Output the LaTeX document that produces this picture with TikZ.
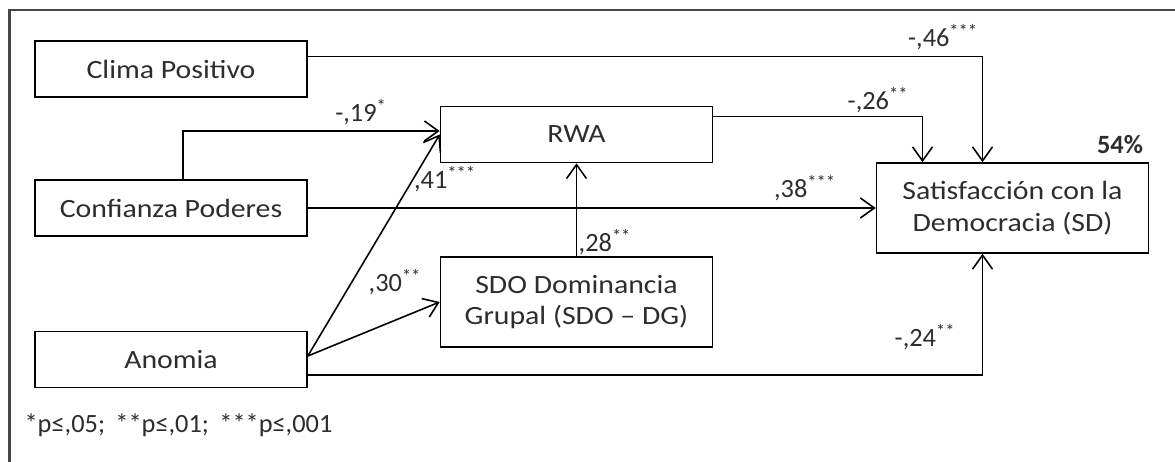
\documentclass[tikz,border=0pt]{standalone}
\usepackage{fontspec}
\setmainfont{Carlito}
\newfontfamily\boxfont{Carlito}[FakeStretch=1.13]
\usepackage{tikz}
\usetikzlibrary{positioning,arrows.meta,calc}
\definecolor{pathtext}{RGB}{45,45,45}
\definecolor{pathframe}{RGB}{70,70,70}
\newcommand{\stars}[1]{\textsuperscript{#1}}

\tikzset{
  varbox/.style={draw,line width=0.9pt,rectangle,align=center,
                 font=\boxfont\fontsize{15}{18}\selectfont,
                 minimum width=5.44cm,minimum height=1.12cm,text=pathtext},
  tallbox/.style={varbox,minimum height=1.8cm},
  arr/.style={-{Straight Barb[length=2.8mm,width=4mm]},line width=0.9pt},
  coef/.style={text=pathtext,inner sep=1pt}
}

\begin{document}
\begin{tikzpicture}[font=\fontsize{15}{18}\selectfont]
    \useasboundingbox (0,0) rectangle (23.5,9.24);
    % marco
    \draw[pathframe,line width=1.4pt] (0.19,-0.2) -- (0.19,9.04) -- (23.7,9.04);
    % variables
    \node[varbox] (clima) at (3.42,7.86) {Clima Positivo};
    \node[varbox] (confianza) at (3.42,5.08) {Confianza Poderes};
    \node[varbox] (anomia) at (3.42,2.05) {Anomia};
    \node[varbox] (rwa) at (11.53,6.55) {RWA};
    \node[tallbox] (sdo) at (11.53,3.20) {SDO Dominancia\\Grupal (SDO – DG)};
    \node[tallbox] (sd) at (20.25,5.08) {Satisfacción con la\\Democracia (SD)};
    % caminos
    \draw[arr] ([yshift=0.25cm]clima.east) -| ([xshift=-0.6cm]sd.north);
    \draw[arr] ([yshift=0.36cm]rwa.east) -| ([xshift=-1.8cm]sd.north);
    \draw[arr] (confianza) -- (sd);
    \draw[arr] ([xshift=0.24cm]confianza.north) |- ([yshift=0.07cm]rwa.west);
    \draw[arr] ([yshift=0.07cm]anomia.east) -- (rwa.west);
    \draw[arr] ([yshift=0.07cm]anomia.east) -- (sdo.west);
    \draw[arr] (sdo) -- (rwa);
    \draw[arr] ([yshift=-0.31cm]anomia.east) -| ([xshift=-0.6cm]sd.south);
    % coeficientes
    \node[coef] (c46) at (18.86,8.50) {-,46\stars{***}};
    \node[coef] (c26) at (17.56,7.24) {-,26\stars{**}};
    \node[coef] (c19) at (7.22,7.00) {-,19\stars{*}};
    \node[coef] (c41) at (8.90,5.66) {,41\stars{***}};
    \node[coef] (c38) at (16.10,5.48) {,38\stars{***}};
    \node[coef] (c30) at (7.90,3.60) {,30\stars{**}};
    \node[coef] (c28) at (12.10,4.40) {,28\stars{**}};
    \node[coef] (c24) at (18.50,2.50) {-,24\stars{**}};
    \node[coef,font=\fontsize{15}{18}\selectfont\bfseries] (r2) at (22.40,6.34) {54\%};
    \node[coef,anchor=west] (nota) at (0.45,0.74) {*p≤,05; \,**p≤,01; \,***p≤,001};
\end{tikzpicture}
\end{document}
